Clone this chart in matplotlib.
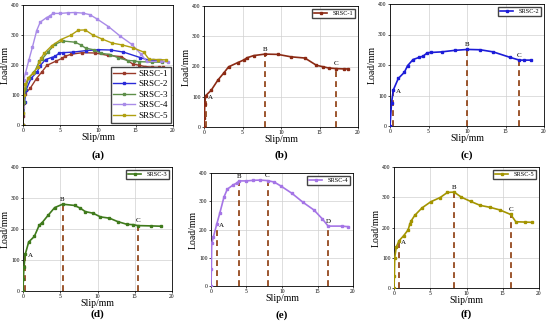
import matplotlib
matplotlib.use("Agg")
import matplotlib.pyplot as plt

plt.rcParams['font.family'] = ['Liberation Serif', 'DejaVu Serif']

# load-slip data
s1_x = [0, 0.05, 0.1, 0.2, 0.95, 1.8, 2.55, 3.2, 4.4, 5.2, 5.6, 6.45, 7.9, 9.6, 11.3, 13.1, 14.6, 15.5, 16.2, 17.2, 18.2, 18.7]
s1_y = [0, 30, 75, 103, 122, 155, 178, 199, 213, 222, 229, 236, 241, 240, 232, 228, 204, 199, 195, 193, 192, 192]
s2_x = [0, 0.2, 0.43, 1.08, 1.86, 2.29, 3.0, 3.8, 4.3, 4.84, 5.27, 6.7, 8.4, 10.06, 11.7, 13.4, 15.6, 16.8, 17.4, 18.3]
s2_y = [0, 76, 118, 156, 176, 198, 218, 225, 229, 240, 241, 243, 248, 251, 250, 243, 225, 216, 216, 216]
s3_x = [0, 0.05, 0.13, 0.31, 0.76, 1.52, 2.19, 2.55, 3.36, 4.25, 5.32, 6.93, 7.7, 8.37, 9.4, 10.4, 11.6, 12.7, 13.96, 14.8, 15.4, 17.2, 18.5]
s3_y = [0, 40, 76, 119, 158, 176, 213, 220, 244, 269, 280, 276, 267, 256, 251, 239, 235, 224, 215, 214, 211, 210, 209]
s4_x = [0, 0.05, 0.1, 0.35, 0.8, 1.26, 1.83, 2.3, 3.14, 3.6, 3.98, 5.0, 5.95, 6.9, 7.96, 8.9, 9.9, 11.4, 12.97, 14.5, 15.7, 16.5, 18.4, 19.3]
s4_y = [0, 60, 151, 175, 218, 260, 315, 343, 358, 364, 372, 372, 374, 375, 373, 368, 353, 328, 296, 269, 237, 212, 212, 210]
s5_x = [0, 0.05, 0.1, 0.32, 0.69, 1.34, 1.94, 2.17, 2.4, 2.86, 3.87, 5.07, 6.36, 7.37, 8.3, 9.3, 10.6, 11.9, 13.2, 14.6, 16.1, 16.8, 18.0, 19.1]
s5_y = [0, 40, 100, 136, 156, 173, 192, 210, 223, 240, 265, 285, 299, 316, 317, 300, 286, 273, 267, 258, 243, 219, 218, 217]

names = ['SRSC-1', 'SRSC-2', 'SRSC-3', 'SRSC-4', 'SRSC-5']
xs = [s1_x, s2_x, s3_x, s4_x, s5_x]
ys = [s1_y, s2_y, s3_y, s4_y, s5_y]
colors = ['#8b2a14', '#1c1cd8', '#3f7a1c', '#a575e6', '#a39400']
overlay_colors = ['#9a3a2a', '#2a2ad8', '#5e8f4a', '#a98be8', '#b0a010']

# characteristic points (slip, load, label) for each specimen
key_points = [
    [(0.2, 103, 'A'), (7.9, 241, 'B'), (17.2, 193, 'C')],
    [(0.43, 118, 'A'), (10.06, 251, 'B'), (16.8, 216, 'C')],
    [(0.31, 119, 'A'), (5.32, 280, 'B'), (15.4, 211, 'C')],
    [(0.8, 218, 'A'), (3.98, 372, 'B'), (7.96, 373, 'C'), (16.5, 212, 'D')],
    [(0.69, 156, 'A'), (8.3, 317, 'B'), (16.1, 243, 'C')],
]
panel_tags = ['(b)', '(c)', '(d)', '(e)', '(f)']

W, H = 550, 325
fig = plt.figure(figsize=(W / 100, H / 100), dpi=100)


def px_axes(left, right, top, bottom):
    return fig.add_axes([left / W, (H - bottom) / H, (right - left) / W, (bottom - top) / H])


def style(ax, tag, tag_px):
    ax.set_xlim(0, 20)
    ax.set_ylim(0, 400)
    ax.set_xticks([0, 5, 10, 15, 20])
    ax.set_yticks([0, 100, 200, 300, 400])
    ax.tick_params(labelsize=4, length=1.5, width=0.5, pad=1)
    ax.grid(True, color='#d0d0d0', linewidth=0.5)
    for sp in ax.spines.values():
        sp.set_linewidth(0.6)
    ax.set_xlabel('Slip/mm', fontsize=7, labelpad=0)
    ax.set_ylabel('Load/mm', fontsize=7, labelpad=1)
    bb = ax.get_position()
    fig.text((bb.x0 + bb.x1) / 2, (H - tag_px) / H, tag, ha='center', va='center',
             fontsize=8, fontweight='bold')


boxes = [
    (204, 358, 6, 127),
    (390, 544, 4, 126),
    (23, 172, 167, 291),
    (211, 353, 173, 286),
    (394, 539, 167, 288),
]
tag_rows = [155, 155, 314, 315, 314]

# (a) all specimens together
ax = px_axes(23, 173, 5, 125)
for x, y, c, n in zip(xs, ys, overlay_colors, names):
    ax.plot(x, y, '-s', color=c, lw=1.0, ms=1.5, label=n)
style(ax, '(a)', 155)
ax.legend(loc='lower right', fontsize=6.5, handlelength=2.4, borderpad=0.3,
          labelspacing=0.25, handletextpad=0.4, borderaxespad=0.25,
          fancybox=False, edgecolor='#444444', framealpha=1)

# (b)-(f) individual specimens
for i in range(5):
    left, right, top, bottom = boxes[i]
    ax = px_axes(left, right, top, bottom)
    ax.plot(xs[i], ys[i], '-s', color=colors[i], lw=1.2, ms=1.6, label=names[i], zorder=3)
    for kx, ky, lab in key_points[i]:
        ax.plot([kx, kx], [0, ky], color='#8b3a0a', lw=1.2, dashes=(3.5, 2.5), zorder=2)
        if lab == 'A':
            ax.text(kx + 0.3, ky - 5, lab, fontsize=5, ha='left', va='center')
        else:
            ax.text(kx, ky + 8, lab, fontsize=5, ha='center', va='bottom')
    style(ax, panel_tags[i], tag_rows[i])
    ax.legend(loc='upper right', fontsize=4.5, handlelength=2.2, borderpad=0.3,
              fancybox=False, edgecolor='#444444', framealpha=1)

fig.savefig('out.png', dpi=100)
